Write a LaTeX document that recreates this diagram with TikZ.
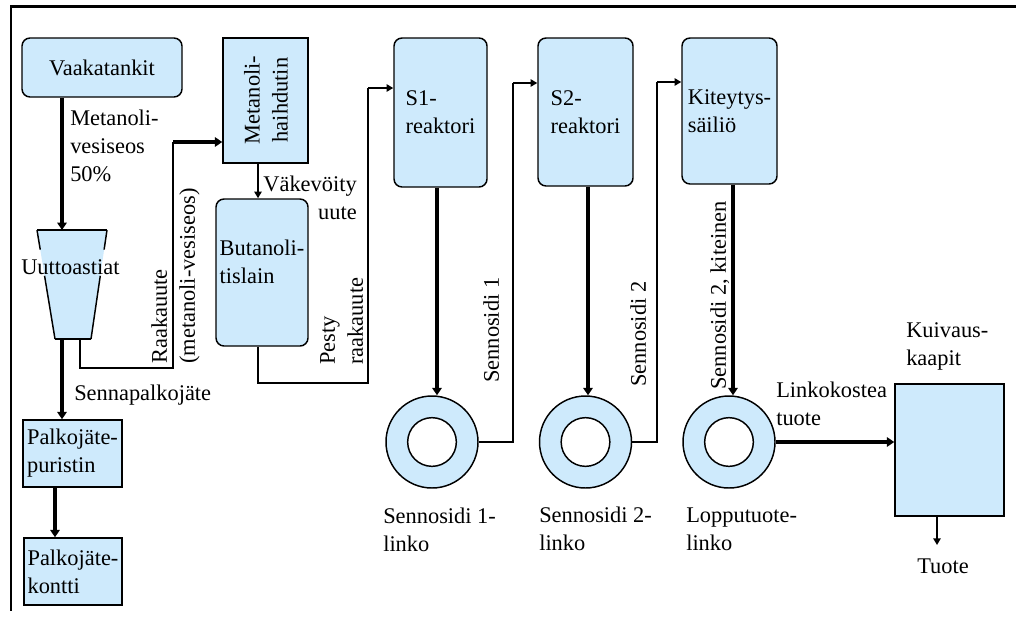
\documentclass[tikz,border=0pt]{standalone}
\usepackage{fontspec}
\setmainfont{Liberation Serif}
\usetikzlibrary{arrows.meta,calc}
\definecolor{pale}{RGB}{206,234,252}
\newcommand{\lblfont}{\fontsize{16.8}{21}\selectfont}
\begin{document}
\begin{tikzpicture}[x=0.75pt,y=-0.75pt,
  lbl/.style={font=\lblfont, inner sep=0pt, align=left},
  tank/.style={draw, fill=pale, line width=1.1pt, rounded corners=6pt, font=\lblfont, align=left, inner sep=2pt},
  crate/.style={draw, fill=pale, line width=1.1pt, font=\lblfont, align=left, inner sep=2pt},
  ring/.style={circle, draw, fill=pale, line width=1.1pt, minimum size=69pt, inner sep=0pt},
  hole/.style={circle, draw, fill=white, line width=1.1pt, minimum size=36.5pt, inner sep=0pt},
  pipe/.style={line width=1pt},
  feed/.style={line width=1.4pt, -{Triangle[length=5pt,width=5.5pt]}},
  main/.style={line width=2.6pt, -{Triangle[length=5.5pt,width=7pt]}}]
\useasboundingbox (0,0) rectangle (1016,621);

% frame
\draw[line width=1.9pt] (1016,6.5) -- (10,6.5);
\draw[line width=1.5pt] (11,6) -- (11,611);

% vessels
\node[tank, minimum width=120pt, minimum height=44.25pt, align=center] (vaaka) at (102,67.5) {Vaakatankit};
\node[crate, minimum width=74.25pt, minimum height=50.25pt] (purist) at (72.5,453.5) {Palkojäte-\\puristin};
\node[crate, minimum width=73.5pt, minimum height=50.25pt] (kontti) at (73,571.5) {Palkojäte-\\kontti};
\node[crate, minimum width=63.75pt, minimum height=93.75pt] (haihd) at (265.5,100.5) {};
\node[lbl, rotate=90, align=center] (tHaihd) at (266,100) {Metanoli-\\haihdutin};
\node[tank, minimum width=69pt, minimum height=110.25pt] (butanol) at (262,272.5) {};
\node[lbl] (tButanol) at (262,262) {Butanoli-\\tislain};
\node[tank, minimum width=69.75pt, minimum height=111.75pt] (s1) at (440.5,112.5) {S1-\\reaktori};
\node[tank, minimum width=71.25pt, minimum height=111pt] (s2) at (585.5,112) {S2-\\reaktori};
\node[tank, minimum width=71.25pt, minimum height=109.5pt] (kit) at (729.5,111) {Kiteytys-\\säiliö};
\node[crate, minimum width=81.75pt, minimum height=99pt] (dryer) at (949.5,450) {};

% centrifuges: outer drum with an open core
\node[ring] (ring1) at (432,442) {};
\node[hole] (core1) at (ring1.center) {};
\node[ring] (ring2) at (585.5,442) {};
\node[hole] (core2) at (ring2.center) {};
\node[ring] (ring3) at (729,442) {};
\node[hole] (core3) at (ring3.center) {};

% extraction vessel (funnel)
\coordinate (fTL) at (37,230);
\coordinate (fTR) at (107,230);
\coordinate (fBL) at (55,339);
\coordinate (fBR) at (91,339);
\coordinate (fIn) at (62,230);
\coordinate (fOut) at (62,339);
\coordinate (fRaw) at (80,339);
\fill[pale] (fTL) -- (fTR) -- (fBR) -- (fBL) -- cycle;
\begin{scope}[line width=1.1pt]
  \draw (fTL) -- (fTR);
  \draw (fBL) -- (fBR);
  \draw (fTL) -- ($(fTL)!0.18!(fBL)$);
  \draw ($(fTL)!0.42!(fBL)$) -- (fBL);
  \draw (fTR) -- ($(fTR)!0.18!(fBR)$);
  \draw ($(fTR)!0.42!(fBR)$) -- (fBR);
\end{scope}
\node[lbl, anchor=north west] (tUutto) at (21,259) {Uuttoastiat};

% main product flow
\draw[main] ($(vaaka.south)+(-40,0)$) -- (fIn);
\draw[main] (fOut) -- (fOut |- purist.north);
\draw[main] ($(purist.south)+(-17.5,0)$) coordinate (p2) -- (p2 |- kontti.north);

% crude extract to evaporator
\coordinate (rawCorner) at (173,368);
\coordinate (rawTop) at (173,142);
\draw[pipe] (fRaw) |- (rawCorner) -- (rawTop);
\draw[main] (rawTop) -- (rawTop -| haihd.west);

% evaporator to distillation
\draw[feed] ($(haihd.south)+(-7.5,0)$) coordinate (h1) -- (h1 |- butanol.north);

% washed extract to S1
\coordinate (washCorner) at (368,383);
\coordinate (washTop) at (368,88);
\draw[pipe] ($(butanol.south)+(-4,0)$) |- (washCorner) -- (washTop);
\draw[feed] (washTop) -- (washTop -| s1.west);

% reactors to centrifuges
\draw[main] ($(s1.south)+(-3.5,0)$) coordinate (a1) -- (a1 |- ring1.north);
\draw[main] ($(s2.south)+(2.5,0)$) coordinate (a2) -- (a2 |- ring2.north);
\draw[main] ($(kit.south)+(3.5,0)$) coordinate (a3) -- (a3 |- ring3.north);

% centrifuges to next stage
\coordinate (s1Top) at (513,83);
\draw[pipe] (ring1.east) -| (s1Top);
\draw[feed] (s1Top) -- (s1Top -| s2.west);
\coordinate (s2Top) at (657,82);
\draw[pipe] (ring2.east) -| (s2Top);
\draw[feed] (s2Top) -- (s2Top -| kit.west);
\draw[main] (ring3.east) -- (ring3.east -| dryer.west);

% product out
\coordinate (outEnd) at (937,545);
\draw[feed] ($(dryer.south)+(-12.5,0)$) -- (outEnd);

% stream labels
\node[lbl, anchor=north west] (tMeta) at (70,110) {Metanoli-\\vesiseos\\50\%};
\node[lbl, anchor=north west] (tSenna) at (74,385) {Sennapalkojäte};
\node[lbl, rotate=90, anchor=north west] (tRaw) at (151,364) {Raakauute\\(metanoli-vesiseos)};
\node[lbl, anchor=north east, align=right] (tConc) at (357,176) {Väkevöity\\uute};
\node[lbl, rotate=90, anchor=north west] (tWash) at (320,365) {Pesty\\raakauute};
\node[lbl, rotate=90, anchor=north west] (tS1) at (483,383) {Sennosidi 1};
\node[lbl, rotate=90, anchor=north west] (tS2) at (630,387) {Sennosidi 2};
\node[lbl, rotate=90, anchor=north west] (tS2k) at (710,390) {Sennosidi 2, kiteinen};
\node[lbl, anchor=north west] (tL1) at (383,508) {Sennosidi 1-\\linko};
\node[lbl, anchor=north west] (tL2) at (539,507) {Sennosidi 2-\\linko};
\node[lbl, anchor=north west] (tL3) at (686,508) {Lopputuote-\\linko};
\node[lbl, anchor=north west] (tMoist) at (776,382) {Linkokostea\\tuote};
\node[lbl, anchor=north west] (tDry) at (906,322) {Kuivaus-\\kaapit};
\node[lbl, anchor=north] (tProd) at (943,559) {Tuote};
\end{tikzpicture}
\end{document}
